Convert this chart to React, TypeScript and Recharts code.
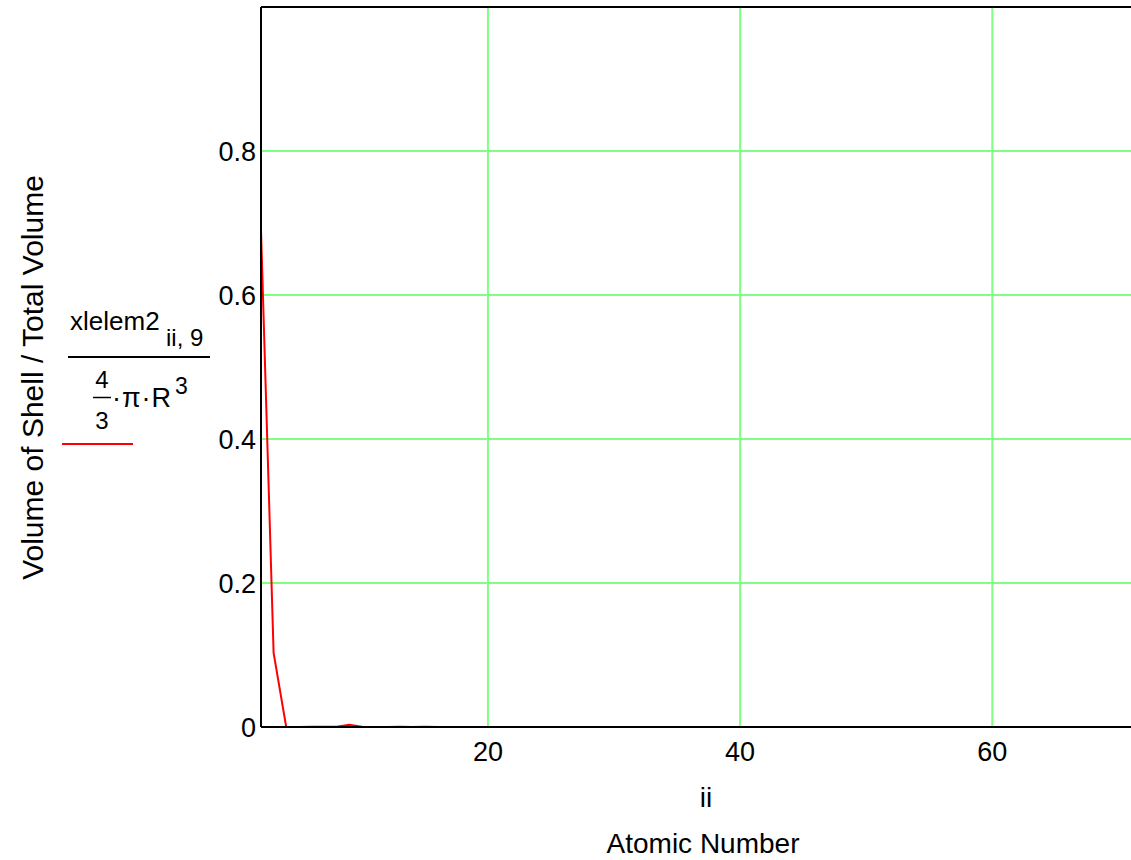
import React from 'react';
import { LineChart, Line, XAxis, YAxis, CartesianGrid, ReferenceLine } from 'recharts';

const atomicNumbers = [
  2, 3, 4, 5, 6, 7, 8, 9, 10, 11, 12, 13, 14, 15, 16, 17, 18, 19, 20, 21,
  22, 23, 24, 25, 26, 27, 28, 29, 30, 31, 32, 33, 34, 35, 36, 37, 38, 39, 40, 41,
  42, 43, 44, 45, 46, 47, 48, 49, 50, 51, 52, 53, 54, 55, 56, 57, 58, 59, 60, 61,
  62, 63, 64, 65, 66, 67, 68, 69, 70, 71,
];
const volumeFraction = [
  0.69, 0.103, 0.0, 0.0, 0.0003, 0.0005, 0.0002, 0.003, 0.0004, 0.0001,
  0.0001, 0.0002, 0.0001, 0.0002, 0.0001, 0.0001, 0.0, 0.0001, 0.0, 0.0,
  0.0, 0.0, 0.0001, 0.0, 0.0, 0.0, 0.0001, 0.0, 0.0, 0.0,
  0.0, 0.0, 0.0, 0.0, 0.0, 0.0, 0.0, 0.0, 0.0, 0.0,
  0.0, 0.0, 0.0, 0.0, 0.0, 0.0, 0.0, 0.0, 0.0, 0.0,
  0.0, 0.0, 0.0, 0.0, 0.0, 0.0, 0.0, 0.0, 0.0, 0.0,
  0.0, 0.0, 0.0, 0.0, 0.0, 0.0, 0.0, 0.0, 0.0, 0.0,
];
const xTicks = [20, 40, 60];
const yTicks = [0, 0.2, 0.4, 0.6, 0.8];
const yTickLabels = ['0', '0.2', '0.4', '0.6', '0.8'];

const data = atomicNumbers.map((ii, i) => ({ ii, v: volumeFraction[i] }));

const FONT = "Arial, 'Liberation Sans', sans-serif";
const GRID = '#80FF80';

export default function App() {
  return (
    <div style={{ position: 'absolute', left: 0, top: 0, width: 1131, height: 860, overflow: 'hidden', background: '#fff' }}>
      <LineChart
        width={1131}
        height={860}
        data={data}
        margin={{ top: 7, right: 0, bottom: 103, left: 0 }}
        style={{ fontFamily: FONT }}
      >
        <CartesianGrid stroke={GRID} strokeWidth={2} verticalValues={xTicks} horizontalValues={yTicks.slice(1)} />
        <XAxis
          dataKey="ii"
          type="number"
          domain={[2, 71]}
          ticks={xTicks}
          allowDataOverflow
          height={30}
          tickSize={0}
          tickMargin={15}
          axisLine={{ stroke: '#000', strokeWidth: 2 }}
          tickLine={false}
          tick={{ fill: '#000', fontSize: 27, fontFamily: FONT }}
        />
        <YAxis
          type="number"
          domain={[0, 1]}
          ticks={yTicks}
          tickFormatter={(v: number) => yTickLabels[yTicks.indexOf(v)] ?? String(v)}
          allowDataOverflow
          width={261}
          tickSize={0}
          tickMargin={5}
          axisLine={{ stroke: '#000', strokeWidth: 2 }}
          tickLine={false}
          tick={{ fill: '#000', fontSize: 27, fontFamily: FONT }}
        />
        <ReferenceLine y={1} stroke="#000" strokeWidth={2} />
        <Line
          type="linear"
          dataKey="v"
          stroke="#FF0000"
          strokeWidth={2}
          dot={false}
          isAnimationActive={false}
        />
      </LineChart>
      <svg
        width={1131}
        height={860}
        style={{ position: 'absolute', left: 0, top: 0, pointerEvents: 'none', fontFamily: FONT }}
      >
        <text x={43} y={377.5} transform="rotate(-90, 43, 377.5)" textAnchor="middle" fontSize={30} fill="#000">
          Volume of Shell / Total Volume
        </text>
        <text x={70} y={330} fontSize={26} fill="#000">xlelem2</text>
        <text x={166} y={346} fontSize={24} fill="#000">ii, 9</text>
        <line x1={68} y1={357} x2={210} y2={357} stroke="#000" strokeWidth={2} />
        <text x={102} y={388} fontSize={24} textAnchor="middle" fill="#000">4</text>
        <line x1={93} y1={397.5} x2={111} y2={397.5} stroke="#000" strokeWidth={1.5} />
        <text x={102} y={429} fontSize={24} textAnchor="middle" fill="#000">3</text>
        <text x={112} y={407} fontSize={27} letterSpacing={1} fill="#000">·π·R</text>
        <text x={175} y={394} fontSize={23} fill="#000">3</text>
        <line x1={62} y1={444} x2={133} y2={444} stroke="#FF0000" strokeWidth={2} />
        <text x={706} y={807} fontSize={28} textAnchor="middle" fill="#000">ii</text>
        <text x={703} y={853} fontSize={28} textAnchor="middle" fill="#000">Atomic Number</text>
      </svg>
    </div>
  );
}
